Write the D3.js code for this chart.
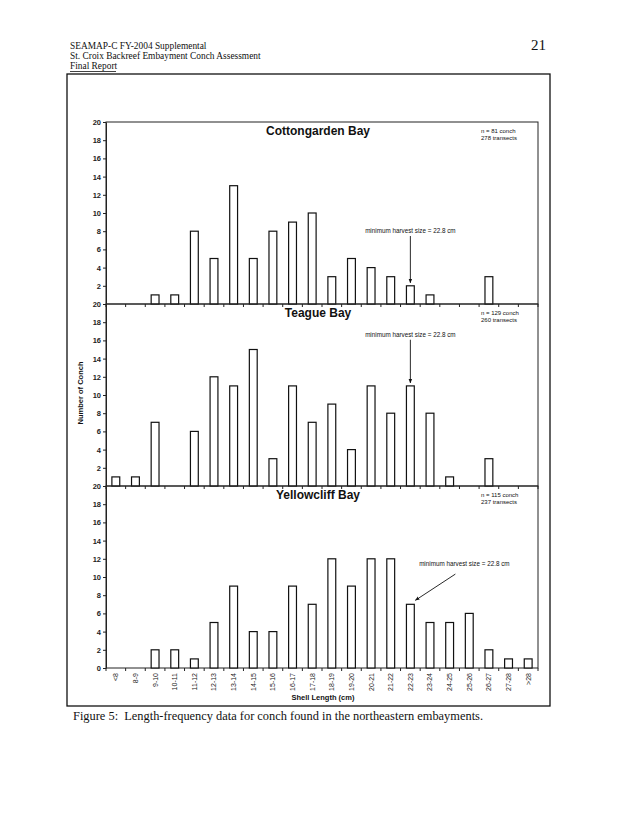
<!DOCTYPE html>
<html><head><meta charset="utf-8">
<script src="https://cdn.jsdelivr.net/npm/d3@7"></script>
<style>
html,body{margin:0;padding:0;background:#fff;}
svg{display:block;}
text{white-space:pre;}
</style></head>
<body>
<svg id="chart" width="630" height="815"></svg>
<script>
// ---------- data ----------
const categories = ["<8","8-9","9-10","10-11","11-12","12-13","13-14","14-15","15-16","16-17","17-18","18-19","19-20","20-21","21-22","22-23","23-24","24-25","25-26","26-27","27-28",">28"];
const cottongarden = [0,0,1,1,8,5,13,5,8,9,10,3,5,4,3,2,1,0,0,3,0,0];
const teague       = [1,1,7,0,6,12,11,15,3,11,7,9,4,11,8,11,8,1,0,3,0,0];
const yellowcliff  = [0,0,2,2,1,5,9,4,4,9,7,12,9,12,12,7,5,5,6,2,1,1];
const panelTitles = ["Cottongarden Bay","Teague Bay","Yellowcliff Bay"];
const panelN = ["n = 81 conch","n = 129 conch","n = 115 conch"];
const panelTransects = ["278 transects","260 transects","237 transects"];
const yTicks = [0,2,4,6,8,10,12,14,16,18,20];
const harvestLabel = "minimum harvest size = 22.8 cm";
const harvestCategory = "22-23";
const headerLines = ["SEAMAP-C FY-2004 Supplemental","St. Croix Backreef Embayment Conch Assessment","Final Report"];
const pageNumber = "21";
const caption = "Figure 5:  Length-frequency data for conch found in the northeastern embayments.";
const yTitle = "Number of Conch";
const xTitle = "Shell Length (cm)";

const series = [cottongarden, teague, yellowcliff];

// ---------- layout ----------
const svg = d3.select("#chart");
const sans = "'Liberation Sans', Arial, sans-serif";
const serif = "'Liberation Serif', 'Times New Roman', serif";
const plotL = 106, plotR = 538;
const panelTops = [122, 304, 486];
const panelH = 182;

const x = d3.scaleBand().domain(categories).range([plotL, plotR]).paddingInner(0.6).paddingOuter(0.3);
const gap = (x.step() - x.bandwidth()) / 2;

// header
const hdr = svg.append("g").attr("font-family", serif).attr("font-size", 9.4).attr("fill", "#111");
headerLines.forEach((t, i) => {
  hdr.append("text").attr("x", 70).attr("y", 49 + i * 10).text(t);
});
hdr.append("line").attr("x1", 70).attr("x2", 116).attr("y1", 71.5).attr("y2", 71.5).attr("stroke", "#111").attr("stroke-width", 0.8);
svg.append("text").attr("x", 546).attr("y", 50).attr("text-anchor", "end")
  .attr("font-family", serif).attr("font-size", 15).attr("fill", "#111").text(pageNumber);

// outer frame
svg.append("rect").attr("x", 67).attr("y", 74).attr("width", 483).attr("height", 632)
  .attr("fill", "none").attr("stroke", "#111").attr("stroke-width", 1.3);

// defs arrow
svg.append("defs").append("marker").attr("id", "arr").attr("viewBox", "0 0 10 10")
  .attr("refX", 9).attr("refY", 5).attr("markerWidth", 5).attr("markerHeight", 5)
  .attr("orient", "auto").append("path").attr("d", "M0,1 L10,5 L0,9 Z").attr("fill", "#111");

series.forEach((vals, p) => {
  const top = panelTops[p], bottom = top + panelH;
  const y = d3.scaleLinear().domain([0, 20]).range([bottom, top]);
  const g = svg.append("g");

  // panel frame
  g.append("rect").attr("x", plotL).attr("y", top).attr("width", plotR - plotL).attr("height", panelH)
    .attr("fill", "none").attr("stroke", "#222").attr("stroke-width", 1);

  // y axis
  const ya = d3.axisLeft(y).tickValues(p < 2 ? yTicks.filter(v => v > 0) : yTicks).tickSize(3).tickSizeOuter(0);
  const yg = g.append("g").attr("transform", `translate(${plotL},0)`).call(ya);
  yg.select(".domain").attr("stroke", "#222");
  yg.selectAll("line").attr("stroke", "#222");
  yg.selectAll("text").attr("font-family", sans).attr("font-size", 7.5).attr("font-weight", "bold").attr("fill", "#222").attr("x", -5);

  // bars
  g.selectAll("rect.bar").data(categories.map((c, i) => ({c, v: vals[i]})).filter(d => d.v > 0))
    .enter().append("rect").attr("class", "bar")
    .attr("x", d => x(d.c)).attr("width", x.bandwidth())
    .attr("y", d => y(d.v)).attr("height", d => y(0) - y(d.v))
    .attr("fill", "#fff").attr("stroke", "#111").attr("stroke-width", 1.2);

  // x baseline ticks (at band edges)
  const edges = categories.map(c => x(c) - gap).concat([x(categories[categories.length - 1]) + x.bandwidth() + gap]);
  g.selectAll("line.xt").data(edges).enter().append("line")
    .attr("x1", d => d).attr("x2", d => d).attr("y1", bottom).attr("y2", bottom + 3)
    .attr("stroke", "#222").attr("stroke-width", 1);

  // title
  g.append("text").attr("x", 318).attr("y", top + 13).attr("text-anchor", "middle")
    .attr("font-family", sans).attr("font-weight", "bold").attr("font-size", 12).attr("fill", "#111").text(panelTitles[p]);
  // n labels
  g.append("text").attr("x", 481).attr("y", top + 11).attr("font-family", sans).attr("font-size", 6).attr("fill", "#111").text(panelN[p]);
  g.append("text").attr("x", 481).attr("y", top + 18).attr("font-family", sans).attr("font-size", 6).attr("fill", "#111").text(panelTransects[p]);

  // harvest annotation
  const hi = categories.indexOf(harvestCategory);
  const bx = x(harvestCategory) + x.bandwidth() / 2;
  const by = y(vals[hi]);
  if (p < 2) {
    const ty = p === 0 ? y(7.8) : y(16.4);
    g.append("text").attr("x", bx).attr("y", ty).attr("text-anchor", "middle")
      .attr("font-family", sans).attr("font-size", 6.3).attr("fill", "#111").text(harvestLabel);
    g.append("line").attr("x1", bx).attr("x2", bx).attr("y1", ty + 3).attr("y2", by - 3)
      .attr("stroke", "#111").attr("stroke-width", 0.9).attr("marker-end", "url(#arr)");
  } else {
    const tx = bx + 54, ty = y(11.2);
    g.append("text").attr("x", tx).attr("y", ty).attr("text-anchor", "middle")
      .attr("font-family", sans).attr("font-size", 6.3).attr("fill", "#111").text(harvestLabel);
    g.append("line").attr("x1", bx + 45).attr("y1", ty + 8).attr("x2", bx + 5).attr("y2", by - 4)
      .attr("stroke", "#111").attr("stroke-width", 0.9).attr("marker-end", "url(#arr)");
  }

  // x labels only on bottom panel
  if (p === 2) {
    const xa = d3.axisBottom(x).tickSize(0).tickSizeOuter(0);
    const xg = g.append("g").attr("transform", `translate(0,${bottom})`).call(xa);
    xg.select(".domain").remove();
    xg.selectAll("text").attr("font-family", sans).attr("font-size", 7).attr("fill", "#222")
      .attr("transform", "rotate(-90)").attr("text-anchor", "end")
      .attr("x", -5).attr("y", 0).attr("dy", "0.35em");
  }
});

// axis titles
svg.append("text").attr("transform", "translate(83,393) rotate(-90)").attr("text-anchor", "middle")
  .attr("font-family", sans).attr("font-weight", "bold").attr("font-size", 7.5).attr("fill", "#111").text(yTitle);
svg.append("text").attr("x", 323).attr("y", 700).attr("text-anchor", "middle")
  .attr("font-family", sans).attr("font-weight", "bold").attr("font-size", 7.5).attr("fill", "#111").text(xTitle);

// caption
svg.append("text").attr("x", 73).attr("y", 720).attr("font-family", serif).attr("font-size", 13)
  .attr("textLength", 410).attr("lengthAdjust", "spacingAndGlyphs").attr("fill", "#111").text(caption);
</script>
</body></html>
